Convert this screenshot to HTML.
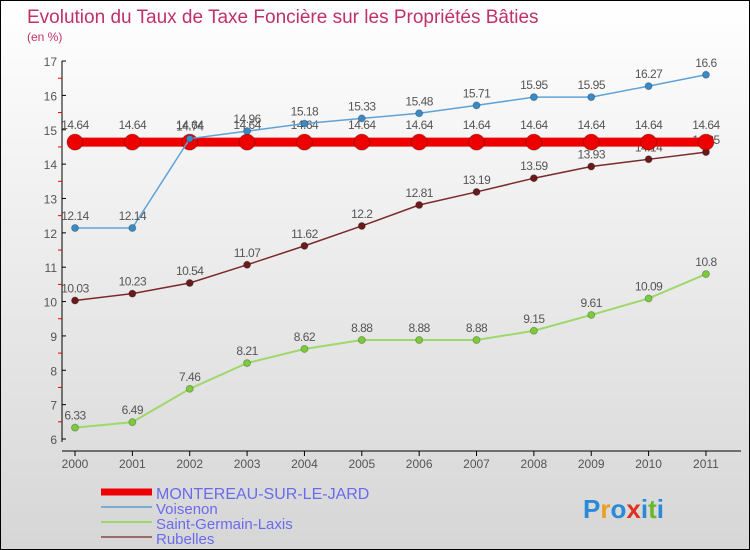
<!DOCTYPE html>
<html><head><meta charset="utf-8"><style>
body{margin:0}
#wrap{position:relative;width:748px;height:548px;border:1px solid #000;background:linear-gradient(#fff,#d6d6d6);font-family:"Liberation Sans",sans-serif;overflow:hidden}
</style></head><body>
<div id="wrap">
<svg id="svg" width="748" height="548" style="position:absolute;left:0;top:0"></svg>
</div>
<script>
const years=[2000,2001,2002,2003,2004,2005,2006,2007,2008,2009,2010,2011];
const yTicks=[6,7,8,9,10,11,12,13,14,15,16,17];
const montereau=[14.64,14.64,14.64,14.64,14.64,14.64,14.64,14.64,14.64,14.64,14.64,14.64];
const voisenon=[12.14,12.14,14.74,14.96,15.18,15.33,15.48,15.71,15.95,15.95,16.27,16.6];
const saintGermain=[6.33,6.49,7.46,8.21,8.62,8.88,8.88,8.88,9.15,9.61,10.09,10.8];
const rubelles=[10.03,10.23,10.54,11.07,11.62,12.2,12.81,13.19,13.59,13.93,14.14,14.35];
const NS='http://www.w3.org/2000/svg';
const svg=document.getElementById('svg');
function X(i){return 74+i*57.36;}
function Y(v){return 438-(v-6)*34.36;}
function mk(t,a,p){const e=document.createElementNS(NS,t);for(const k in a)e.setAttribute(k,a[k]);(p||svg).appendChild(e);return e;}
function txt(x,y,s,a,p){const e=mk('text',Object.assign({x:x,y:y},a),p);e.textContent=s;return e;}
let t=txt(26,22,'Evolution du Taux de Taxe Foncière sur les Propriétés Bâties',{'font-size':19,fill:'#c0306a'});


t=txt(26,40,'(en %)',{'font-size':12,fill:'#c0306a'});


let ax=mk('g',{});


mk('line',{x1:61,y1:60,x2:61,y2:441,stroke:'#000','stroke-width':1},ax);
yTicks.forEach(v=>{
  mk('line',{x1:61,x2:65,y1:Y(v),y2:Y(v),stroke:'#000'},ax);
  if(v<17)mk('line',{x1:57,x2:61,y1:Y(v+0.5),y2:Y(v+0.5),stroke:'#e00'},ax);
  const l=txt(56,Y(v)+5,String(v),{'font-size':12,fill:'#555','text-anchor':'end'},ax);
  
  
});
let xa=mk('g',{});


mk('line',{x1:61,y1:450,x2:740,y2:450,stroke:'#000'},xa);
years.forEach((yr,i)=>{
  mk('line',{x1:X(i),x2:X(i),y1:450,y2:455,stroke:'#000'},xa);
  const l=txt(X(i),467,String(yr),{'font-size':12,fill:'#555','text-anchor':'middle'},xa);
  
  
});
function series(name,data,color,dot,lw,r,lblOff){
  const g=mk('g',{});
  
  
  mk('polyline',{points:data.map((v,i)=>X(i)+','+Y(v)).join(' '),fill:'none',stroke:color,'stroke-width':lw},g);
  data.forEach((v,i)=>{
    const c=mk('circle',{cx:X(i),cy:Y(v),r:r,fill:dot,stroke:'rgba(0,0,0,0.25)','stroke-width':1},g);
    
    
    const l=txt(X(i),Y(v)-lblOff,String(v),{'font-size':12,fill:'#555','text-anchor':'middle','letter-spacing':'-0.5'},g);
    
    
  });
}
series('rubelles',rubelles,'#7a2a2a','#6a1a1a',1.5,3.5,8);
series('saint-germain-laxis',saintGermain,'#9ed86a','#7ccc3a',2,3.5,8);
series('montereau',montereau,'#ee0000','#ee0000',9,8,13);
series('voisenon',voisenon,'#5ea3d8','#3a8ac8',1.5,3.5,8);
const leg=[['MONTEREAU-SUR-LE-JARD','#ee0000',7,498],['Voisenon','#7aaed4',2,513],['Saint-Germain-Laxis','#9ed86a',2,528],['Rubelles','#9a6a6a',2,543]];
leg.forEach(([n,c,w,y])=>{
  const g=mk('g',{});
  
  
  mk('line',{x1:100,x2:151,y1:y-7,y2:y-7,stroke:c,'stroke-width':w},g);
  txt(155,y,n,{'font-size':w>2?16:15,fill:'#6a6aee'},g);
});
const lg=txt(582,517,'',{'font-size':26,'font-weight':'bold'});


const cols=['#2b8ad8','#e8a020','#2b8ad8','#e03020','#2b8ad8','#6ab82a','#2b8ad8'];
'Proxiti'.split('').forEach((ch,i)=>{const s=mk('tspan',{fill:cols[i]},lg);s.textContent=ch;});
</script>
</body></html>
